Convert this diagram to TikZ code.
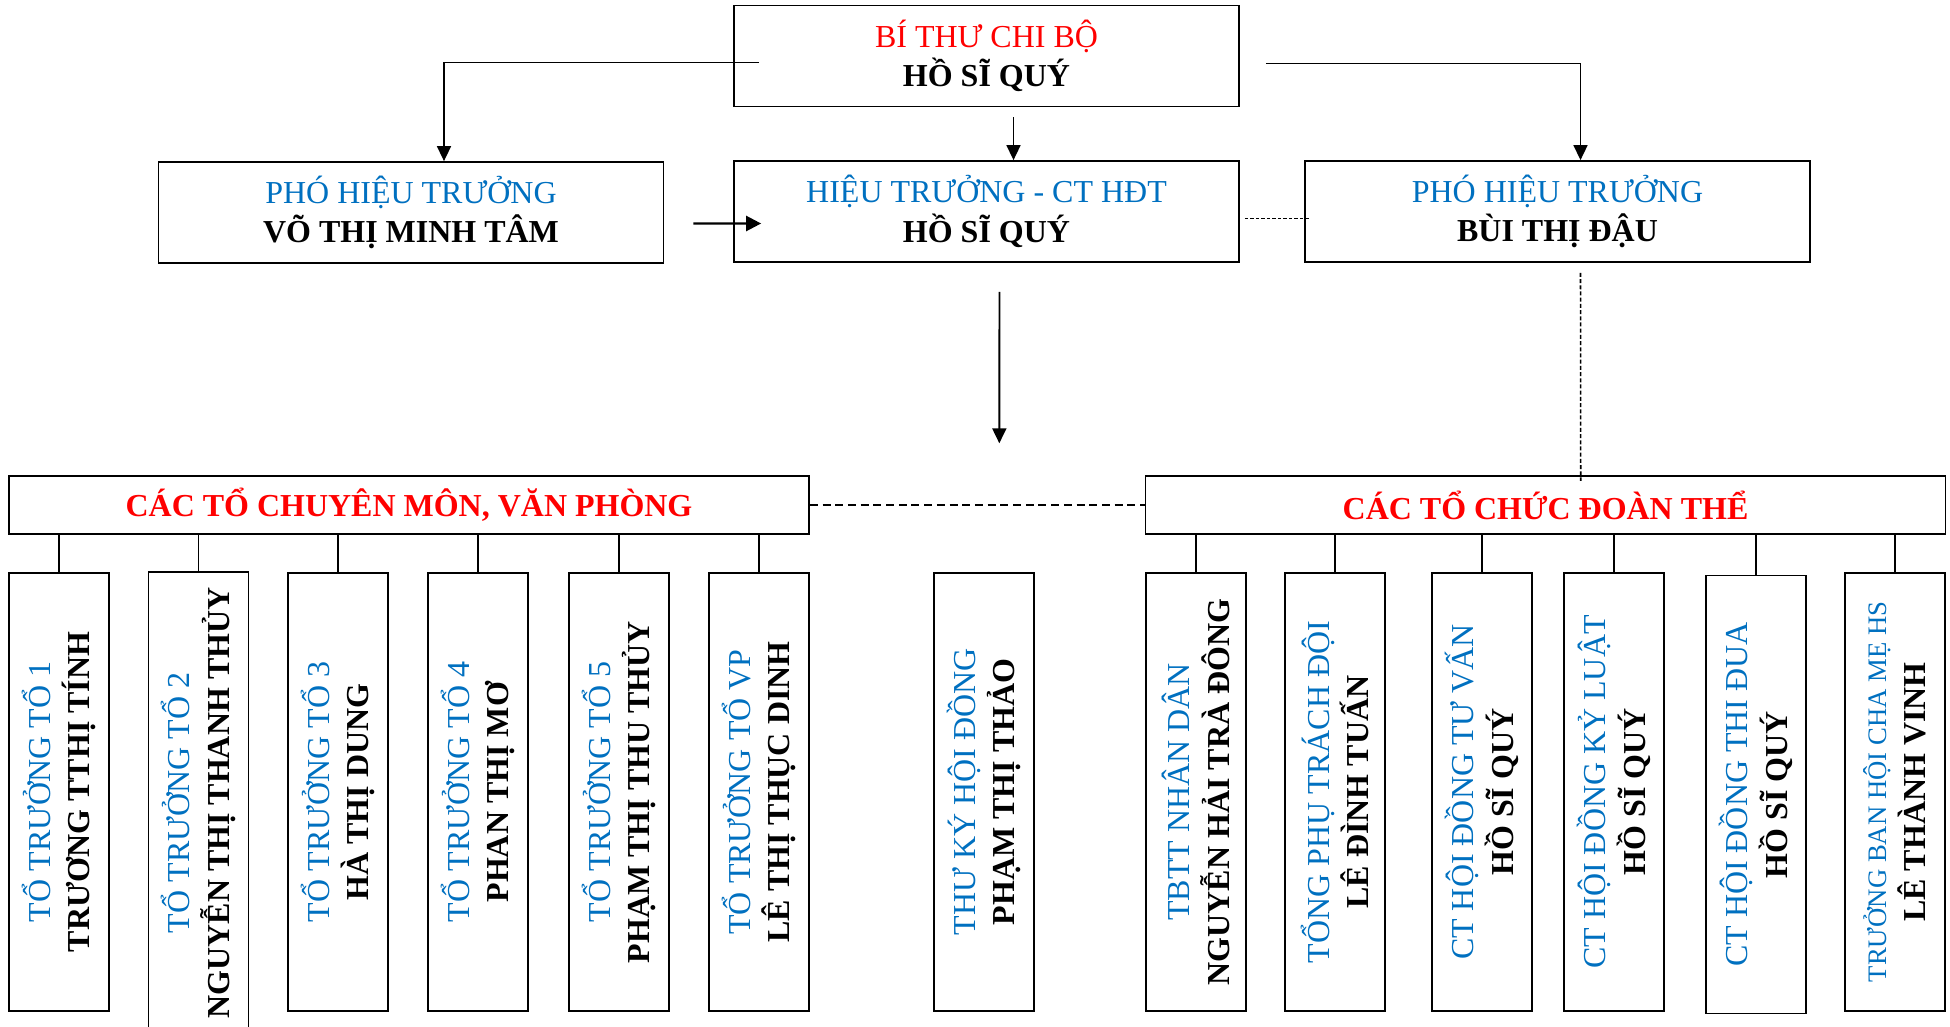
\documentclass[tikz,border=0pt]{standalone}
\usepackage{fontspec}
\setmainfont{Liberation Serif}
\usepackage{tikz}
\usetikzlibrary{arrows.meta, positioning, calc}
\definecolor{tblue}{RGB}{0,112,192}
\definecolor{tred}{RGB}{255,0,0}

\begin{document}
\begin{tikzpicture}[x=0.1mm, y=-0.1mm,
    font=\fontsize{9.1pt}{11.2pt}\selectfont,
    box/.style={draw, line width=0.5pt, align=center, minimum width=50.5mm,
      minimum height=10.1mm, inner sep=1pt},
    hdr/.style={draw, line width=0.5pt, minimum width=80mm, minimum height=5.8mm,
      inner sep=1pt, text=tred, font=\fontsize{9.1pt}{11.2pt}\selectfont\bfseries},
    vbox/.style={draw, line width=0.5pt, rotate=90, align=center,
      minimum width=43.8mm, minimum height=10mm, inner sep=1pt},
    link/.style={line width=0.45pt},
    arr/.style={line width=0.45pt, -{Triangle[length=1.5mm, width=1.4mm]}},
    bigarr/.style={line width=0.7pt, -{Triangle[length=1.5mm, width=1.5mm]}} ]

    \useasboundingbox (0,0) rectangle (1950,1027);

    % Top: party secretary
    \node[box] (bithu) at (986.5,56) {\textcolor{tred}{BÍ THƯ CHI BỘ}\\
      \textbf{HỒ SĨ QUÝ}};

    % Board of principals
    \node[box] (pho1) at (411,212.5) {\textcolor{tblue}{PHÓ HIỆU TRƯỞNG}\\
      \textbf{VÕ THỊ MINH TÂM}}; \node[box] (hieutruong) at (986.5,211.5)
    {\textcolor{tblue}{HIỆU TRƯỞNG - CT HĐT}\\ \textbf{HỒ SĨ QUÝ}}; \node[box]
    (pho2) at (1557.5,211.5) {\textcolor{tblue}{PHÓ HIỆU TRƯỞNG}\\
      \textbf{BÙI THỊ ĐẬU}};

    % Arrows from the top box
    \draw[arr] ([xshift=2.6mm,yshift=-0.63mm]bithu.west) -|
    ([xshift=3.3mm]pho1.north); \draw[arr] ([xshift=2.6mm,yshift=-0.77mm]bithu.east)
    -| ([xshift=2.3mm]pho2.north); \draw[arr]
    ([xshift=2.7mm,yshift=-1mm]bithu.south) -- ([xshift=2.7mm]hieutruong.north);

    % Links between principals
    \draw[bigarr] ([xshift=2.9mm,yshift=-1.1mm]pho1.east) --
    ([xshift=2.8mm,yshift=-1.2mm]hieutruong.west); \draw[link, dash pattern=on
    0.35mm off 0.2mm] ([xshift=0.5mm,yshift=-0.7mm]hieutruong.east) --
    ([xshift=0.6mm,yshift=-0.7mm]pho2.west);

    % Group headers
    \node[hdr] (hdrA) at (409,505) {CÁC TỔ CHUYÊN MÔN, VĂN PHÒNG}; \node[hdr]
    (hdrB) at (1545.5,505) {CÁC TỔ CHỨC ĐOÀN THỂ};
    \draw[link, dash pattern=on 0.8mm off 0.47mm] (hdrA.east) -- (hdrB.west);

    \coordinate (downtip) at (999.3,443.3);
    \draw[arr, line width=0.55pt] ([xshift=1.3mm,yshift=-2.9mm]hieutruong.south)
    -- (downtip); \draw[link, dash pattern=on 0.4mm off 0.22mm]
    ([xshift=2.3mm,yshift=-1mm]pho2.south) --
    ([xshift=3.52mm,yshift=-0.57mm]hdrB.north);

    % Subject groups and office
    \node[vbox] (t1) at (59,792) {\textcolor{tblue}{TỔ TRƯỞNG TỔ 1}\\
      \textbf{TRƯƠNG TTHỊ TÍNH}}; \node[vbox, minimum width=46.2mm] (t2) at
    (198.5,803) {\textcolor{tblue}{TỔ TRƯỞNG TỔ 2}\\ \textbf{NGUYỄN THỊ THANH
        THỦY}}; \node[vbox] (t3) at (338,792) {\textcolor{tblue}{TỔ TRƯỞNG TỔ
        3}\\ \textbf{HÀ THỊ DUNG}}; \node[vbox] (t4) at (478,792)
    {\textcolor{tblue}{TỔ TRƯỞNG TỔ 4}\\ \textbf{PHAN THỊ MƠ}}; \node[vbox] (t5)
    at (619,792) {\textcolor{tblue}{TỔ TRƯỞNG TỔ 5}\\ \textbf{PHẠM THỊ THU
        THỦY}}; \node[vbox] (t6) at (759,792) {\textcolor{tblue}{TỔ TRƯỞNG TỔ
        VP}\\ \textbf{LÊ THỊ THỤC DINH}};

    % Council secretary
    \node[vbox] (thuky) at (984,792) {\textcolor{tblue}{THƯ KÝ HỘI ĐỒNG}\\
      \textbf{PHẠM THỊ THẢO}};

    % Mass organisations
    \node[vbox] (d1) at (1196,792) {\textcolor{tblue}{TBTT NHÂN DÂN}\\
      \textbf{NGUYỄN HẢI TRÀ ĐÔNG}}; \node[vbox] (d2) at (1335,792)
    {\textcolor{tblue}{TỔNG PHỤ TRÁCH ĐỘI}\\ \textbf{LÊ ĐÌNH TUẤN}};
    \node[vbox] (d3) at (1482,792) {\textcolor{tblue}{CT HỘI ĐỒNG TƯ VẤN}\\
      \textbf{HỒ SĨ QUÝ}}; \node[vbox] (d4) at (1614,792)
    {\textcolor{tblue}{CT HỘI ĐỒNG KỶ LUẬT}\\ \textbf{HỒ SĨ QUÝ}};
    \node[vbox] (d5) at (1756,794.5) {\textcolor{tblue}{CT HỘI ĐỒNG THI ĐUA}\\
      \textbf{HỒ SĨ QUÝ}}; \node[vbox] (d6) at (1895,792)
    {\textcolor{tblue}{\fontsize{7.6pt}{9pt}\selectfont TRƯỞNG BAN HỘI CHA MẸ
        HS}\\ \textbf{LÊ THÀNH VINH}};

    % Links from headers
    \foreach \b in {t1,t2,t3,t4,t5,t6} \draw[link] (\b.east |- hdrA.south) --
    (\b.east); \foreach \b in {d1,d2,d3,d4,d5,d6} \draw[link] (\b.east |-
    hdrB.south) -- (\b.east);

\end{tikzpicture}
\end{document}
